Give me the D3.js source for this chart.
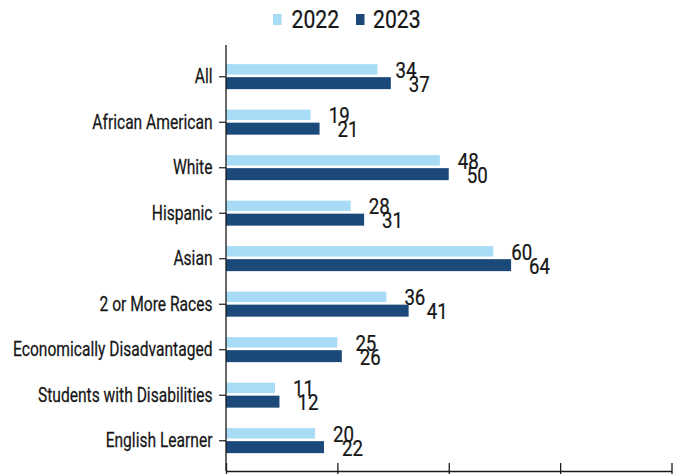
<!DOCTYPE html>
<html>
<head>
<meta charset="utf-8">
<script src="https://cdn.jsdelivr.net/npm/d3@7"></script>
<style>
  html, body { margin: 0; padding: 0; background: #ffffff; }
  svg { display: block; }
  text { font-family: "Roboto", "Liberation Sans", sans-serif; fill: #161616; stroke: #161616; stroke-width: 0.25px; }
</style>
</head>
<body>
<svg id="chart" width="684" height="474"></svg>
<script>
// Student groups, top to bottom
const categories = [
  "All",
  "African American",
  "White",
  "Hispanic",
  "Asian",
  "2 or More Races",
  "Economically Disadvantaged",
  "Students with Disabilities",
  "English Learner"
];
const values2022 = [34, 19, 48, 28, 60, 36, 25, 11, 20];
const values2023 = [37, 21, 50, 31, 64, 41, 26, 12, 22];
const seriesNames = ["2022", "2023"];
const seriesColors = ["#a8dbf5", "#1b4a7a"];
const xTicks = [0, 25, 50, 75, 100];

// Horizontal squeeze applied to the lettering for a condensed look
const squeezeLabels = 0.8;
const squeezeValues = 0.83;

const svg = d3.select("#chart");

const x = d3.scaleLinear().domain([0, 100]).range([226, 671.5]);
const y = d3.scaleBand().domain(categories).range([54, 463.5]).padding(0);

const axisTop = 45, axisBottom = 471;

// Bars: lighter year sits above the category tick, darker year just below it
const series = [values2022, values2023];
const barOffsets = [{ y0: -12.6, h: 10.4 }, { y0: 0.4, h: 12 }];

series.forEach((vals, s) => {
  svg.append("g")
    .selectAll("rect")
    .data(categories)
    .join("rect")
    .attr("x", x(0))
    .attr("y", d => y(d) + y.bandwidth() / 2 + barOffsets[s].y0)
    .attr("width", (d, i) => x(vals[i]) - x(0))
    .attr("height", barOffsets[s].h)
    .attr("fill", seriesColors[s]);
});

// Value labels next to each bar
series.forEach((vals, s) => {
  svg.append("g")
    .selectAll("text")
    .data(categories)
    .join("text")
    .attr("transform", (d, i) =>
      `translate(${x(vals[i]) + 18},${y(d) + y.bandwidth() / 2 + barOffsets[s].y0 + barOffsets[s].h / 2 + 1}) scale(${squeezeValues},1)`)
    .attr("dominant-baseline", "central")
    .attr("font-size", 22.5)
    .text((d, i) => vals[i]);
});

// Category axis
const yAxis = svg.append("g")
  .attr("transform", `translate(${x(0)},0)`)
  .call(d3.axisLeft(y).tickSize(7).tickPadding(7));
yAxis.select(".domain").remove();
yAxis.append("line")
  .attr("x1", 0).attr("x2", 0)
  .attr("y1", axisTop).attr("y2", axisBottom)
  .attr("stroke", "#1a1a1a").attr("stroke-width", 1.3);
yAxis.selectAll(".tick line").attr("stroke", "#1a1a1a").attr("stroke-width", 1.2);
yAxis.selectAll(".tick text")
  .attr("x", null)
  .attr("dy", null)
  .attr("dominant-baseline", "central")
  .attr("transform", `translate(-13.5,0) scale(${squeezeLabels},1)`)
  .attr("font-size", 19.5)
  .attr("fill", "#161616")
  .style("font-family", '"Roboto", "Liberation Sans", sans-serif');

// Value axis along the bottom
const xAxis = svg.append("g")
  .attr("transform", `translate(0,${axisBottom})`)
  .call(d3.axisBottom(x).tickValues(xTicks).tickFormat("").tickSizeInner(-8).tickSizeOuter(0));
xAxis.select(".domain").attr("stroke", "#1a1a1a").attr("stroke-width", 1.3);
xAxis.selectAll(".tick line")
  .attr("y1", 6)
  .attr("stroke", "#1a1a1a").attr("stroke-width", 1.3);

// Legend
const legend = svg.append("g");
const legendItems = [
  { name: seriesNames[0], color: seriesColors[0], sx: 273, tx: 291.5 },
  { name: seriesNames[1], color: seriesColors[1], sx: 356, tx: 373 }
];
legendItems.forEach(item => {
  legend.append("rect")
    .attr("x", item.sx).attr("y", 14)
    .attr("width", 8.5).attr("height", 11)
    .attr("fill", item.color);
  legend.append("text")
    .attr("transform", `translate(${item.tx},19.5) scale(${squeezeValues},1)`)
    .attr("dominant-baseline", "central")
    .attr("font-size", 25.5)
    .text(item.name);
});
</script>
</body>
</html>
